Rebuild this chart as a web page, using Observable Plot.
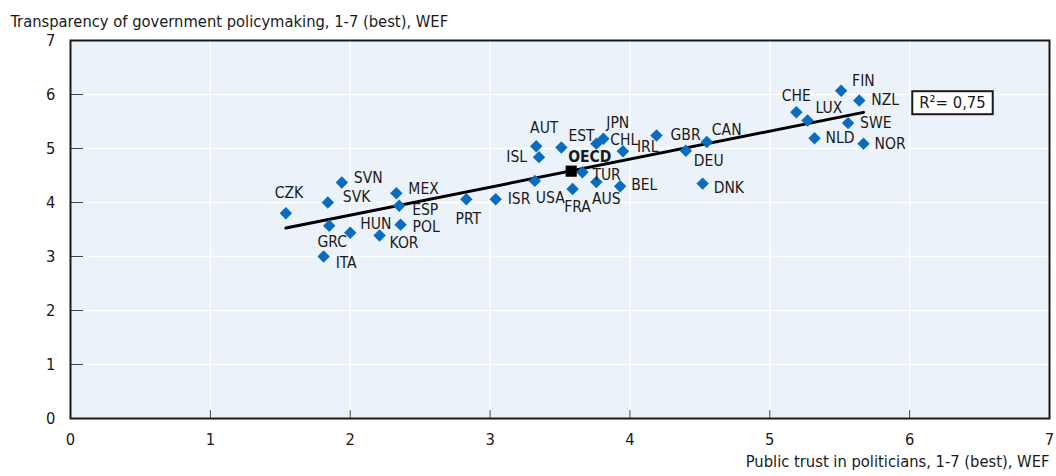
<!DOCTYPE html>
<html>
<head>
<meta charset="utf-8">
<script src="https://cdn.jsdelivr.net/npm/d3@7"></script>
<script src="https://cdn.jsdelivr.net/npm/@observablehq/plot@0.6"></script>
<style>
  html, body { margin: 0; padding: 0; background: #fff; }
  #chart svg { display: block; }
</style>
</head>
<body>
<div id="chart"></div>
<script>
// ---- data ----
const countries = ["CZK","SVN","SVK","MEX","ESP","GRC","HUN","KOR","POL","ITA","PRT","ISR","USA","AUT","ISL","EST","JPN","CHL","IRL","GBR","CAN","DEU","DNK","TUR","AUS","BEL","FRA","FIN","NZL","CHE","LUX","SWE","NLD","NOR"];
const trust =        [1.54,1.94,1.84,2.33,2.35,1.85,2.00,2.21,2.36,1.81,2.83,3.04,3.32,3.33,3.35,3.51,3.81,3.76,3.95,4.19,4.55,4.40,4.52,3.66,3.76,3.93,3.59,5.51,5.64,5.19,5.27,5.56,5.32,5.67];
const transparency = [3.80,4.37,4.00,4.17,3.94,3.57,3.44,3.39,3.59,3.00,4.06,4.06,4.40,5.04,4.84,5.02,5.18,5.09,4.95,5.24,5.12,4.96,4.35,4.56,4.38,4.30,4.25,6.07,5.89,5.67,5.52,5.47,5.19,5.09];
const oecdName = "OECD";
const oecdTrust = 3.58;
const oecdTransparency = 4.58;
const axisTicks = [0,1,2,3,4,5,6,7];
const r2Label = "R²= 0,75";
const xTitle = "Public trust in politicians, 1-7 (best), WEF";
const yTitle = "Transparency of government policymaking, 1-7 (best), WEF";

// ---- label placement (layout only) ----
const place = {
  CZK:["middle",3,-20], SVN:["start",12,-4], SVK:["start",15,-5], MEX:["start",12,-4],
  ESP:["start",13,4], GRC:["middle",3,16], HUN:["start",10,-9], KOR:["start",10,8],
  POL:["start",12,2], ITA:["start",12,7], PRT:["middle",2,20], ISR:["start",12,0],
  USA:["start",1,17], AUT:["middle",8,-18], ISL:["end",-12,0], EST:["start",7,-11],
  JPN:["start",3,-16], CHL:["start",14,-4], IRL:["start",14,-4], GBR:["start",14,-1],
  CAN:["start",5,-12], DEU:["start",8,10], DNK:["start",11,4], TUR:["start",10,3],
  AUS:["middle",10,17], BEL:["start",11,-1], FRA:["middle",5,18], FIN:["start",11,-10],
  NZL:["start",12,0], CHE:["middle",0,-16], LUX:["start",8,-12], SWE:["start",12,0],
  NLD:["start",11,0], NOR:["start",11,0]
};

const rows = countries.map((c, i) => ({name: c, x: trust[i], y: transparency[i]}));
const oecd = [{name: oecdName, x: oecdTrust, y: oecdTransparency}];

const FONT = "'Liberation Sans Narrow', 'Arial Narrow', 'DejaVu Sans Condensed', sans-serif";
const BLUE = "#0a6cbf";
const INK = "#1a1a1a";
const FS = 15.5;
const TFS = 16.4;

const labelMarks = rows.map(r => {
  const [anchor, dx, dy] = place[r.name];
  return Plot.text([r], {x: "x", y: "y", text: "name", textAnchor: anchor, dx, dy,
    fontSize: FS, fill: INK, lineAnchor: "middle"});
});

const plot = Plot.plot({
  width: 1056,
  height: 476,
  marginLeft: 70,
  marginRight: 7,
  marginTop: 40,
  marginBottom: 58,
  style: {fontFamily: FONT, fontSize: FS + "px", color: INK, background: "#fff"},
  x: {domain: [0, 7], ticks: axisTicks, tickFormat: "d"},
  y: {domain: [0, 7], ticks: axisTicks, tickFormat: "d"},
  marks: [
    Plot.frame({fill: "#ebf2fa", stroke: null}),
    Plot.gridX(axisTicks, {stroke: "#fff", strokeOpacity: 1, strokeWidth: 1.5}),
    Plot.gridY(axisTicks, {stroke: "#fff", strokeOpacity: 1, strokeWidth: 1.5}),
    Plot.axisX(axisTicks, {tickSize: 0, tickPadding: 15, fontSize: TFS, label: null, tickFormat: "d"}),
    Plot.axisY(axisTicks, {tickSize: 0, tickPadding: 15, fontSize: TFS, label: null, tickFormat: "d"}),
    Plot.tickX(axisTicks, {x: d => d, insetTop: 370, stroke: "#444", strokeWidth: 1}),
    Plot.tickY(axisTicks, {y: d => d, insetRight: 966, stroke: "#444", strokeWidth: 1}),
    Plot.frame({stroke: INK, strokeWidth: 2}),
    Plot.linearRegressionY(rows, {x: "x", y: "y", ci: 0, stroke: "#000", strokeWidth: 3}),
    Plot.dot(rows, {x: "x", y: "y", symbol: "diamond2", r: 5.6, fill: BLUE, stroke: null}),
    Plot.dot(oecd, {x: "x", y: "y", symbol: "square", r: 6.3, fill: "#000", stroke: null}),
    ...labelMarks,
    Plot.text(oecd, {x: "x", y: "y", text: "name", textAnchor: "start", dx: -3, dy: -14, fontWeight: "bold", fontSize: FS, fill: INK}),
    Plot.text([r2Label], {frameAnchor: "top-right", text: d => d, dx: -97, dy: 56, textAnchor: "middle", fontSize: 16.5, fill: INK}),
    Plot.text([yTitle], {frameAnchor: "top-left", text: d => d, dx: -60, dy: -25, textAnchor: "start", fontSize: TFS, fill: INK}),
    Plot.text([xTitle], {frameAnchor: "bottom-right", text: d => d, dx: 0, dy: 48, textAnchor: "end", fontSize: TFS, fill: INK})
  ]
});

document.getElementById("chart").appendChild(plot);

// box around R² label, sized from the rendered text (same transform as the text)
d3.select(plot).selectAll("text").each(function () {
  if (this.textContent === r2Label) {
    const bb = this.getBBox();
    const rect = d3.select(this.parentNode).insert("rect", ":first-child")
      .attr("x", bb.x - 7).attr("y", bb.y - 2)
      .attr("width", bb.width + 14).attr("height", bb.height + 4)
      .attr("fill", "#fff").attr("stroke", INK).attr("stroke-width", 2);
    const tr = this.getAttribute("transform");
    if (tr) rect.attr("transform", tr);
  }
});
</script>
</body>
</html>
